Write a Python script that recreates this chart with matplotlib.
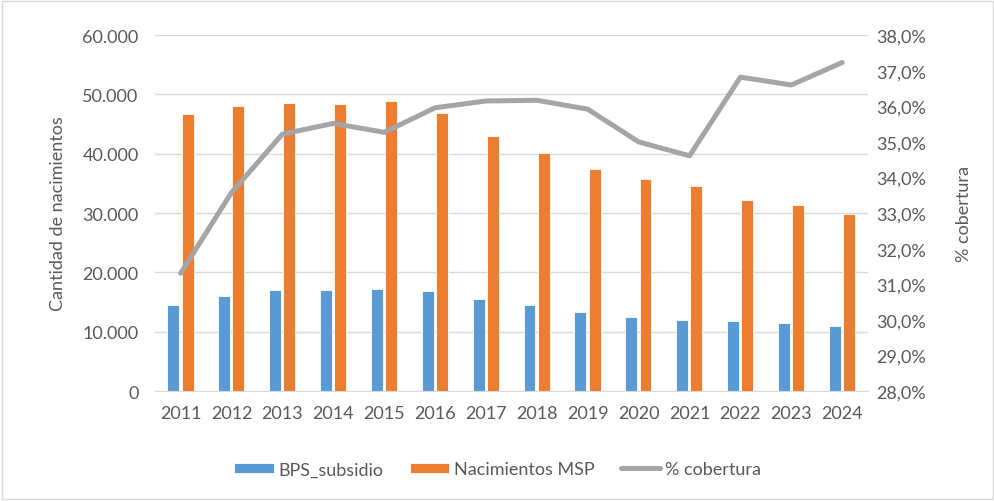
import numpy as np
import matplotlib.pyplot as plt
from matplotlib.ticker import FuncFormatter
from matplotlib.patches import Rectangle

years = ['2011', '2012', '2013', '2014', '2015', '2016', '2017',
         '2018', '2019', '2020', '2021', '2022', '2023', '2024']
bps_subsidio = [14550, 16070, 17080, 17080, 17200, 16810, 15460,
                14450, 13320, 12480, 11920, 11800, 11410, 11010]
nacimientos_msp = [46660, 48010, 48620, 48340, 48900, 46930, 43000,
                   40080, 37440, 35800, 34520, 32210, 31310, 29800]
cobertura = [31.31, 33.58, 35.22, 35.52, 35.27, 35.96, 36.15,
             36.17, 35.92, 35.00, 34.61, 36.82, 36.60, 37.23]

plt.rcParams['font.family'] = ['Lato', 'DejaVu Sans']
txt = '#595959'
fs = 13

fig = plt.figure(figsize=(9.95, 5.02), dpi=100, facecolor='white')
fig.patches.append(Rectangle((0.002, 0.004), 0.996, 0.992, transform=fig.transFigure,
                             fill=False, edgecolor='#D9D9D9', linewidth=1))
ax = fig.add_axes([0.156, 0.219, 0.716, 0.709])
ax2 = ax.twinx()

x = np.arange(len(years))
w = 0.235
b1 = ax.bar(x - 0.145, bps_subsidio, w, color='#5B9BD5', edgecolor='white',
            linewidth=0.6, label='BPS_subsidio', zorder=2)
b2 = ax.bar(x + 0.135, nacimientos_msp, w, color='#ED7D31', edgecolor='white',
            linewidth=0.6, label='Nacimientos MSP', zorder=2)
ln, = ax2.plot(x, cobertura, color='#A5A5A5', linewidth=3.6,
               solid_capstyle='round', label='% cobertura')

ax.set_xlim(-0.5, len(years) - 0.5)
ax.set_ylim(0, 60000)
ax.set_yticks(np.arange(0, 60001, 10000))
ax.yaxis.set_major_formatter(FuncFormatter(lambda v, p: f'{int(v):,}'.replace(',', '.')))
ax2.set_ylim(28, 38)
ax2.set_yticks(np.arange(28, 38.1, 1))
ax2.yaxis.set_major_formatter(FuncFormatter(lambda v, p: f'{v:.1f}%'.replace('.', ',')))

ax.set_xticks(x)
ax.set_xticklabels(years)
ax.grid(axis='y', color='#D9D9D9', linewidth=1, zorder=0)
ax.set_axisbelow(True)

for a in (ax, ax2):
    for s in a.spines.values():
        s.set_visible(False)
    a.tick_params(length=0, labelsize=fs, colors=txt)
ax.spines['bottom'].set_visible(True)
ax.spines['bottom'].set_color('#D9D9D9')
ax.tick_params(axis='x', pad=10)
ax.tick_params(axis='y', pad=12)
ax2.tick_params(axis='y', pad=6)

ax.set_ylabel('Cantidad de nacimientos', fontsize=fs, color=txt, labelpad=12)
ax2.set_ylabel('% cobertura', fontsize=fs, color=txt, labelpad=22)

fig.legend(handles=[b1, b2, ln], loc='center', bbox_to_anchor=(0.5, 0.063), ncol=3,
           frameon=False, fontsize=fs, labelcolor=txt, handlelength=2.2,
           handleheight=0.55, columnspacing=1.45, handletextpad=0.25)

fig.savefig('out.png', dpi=100, facecolor='white')
